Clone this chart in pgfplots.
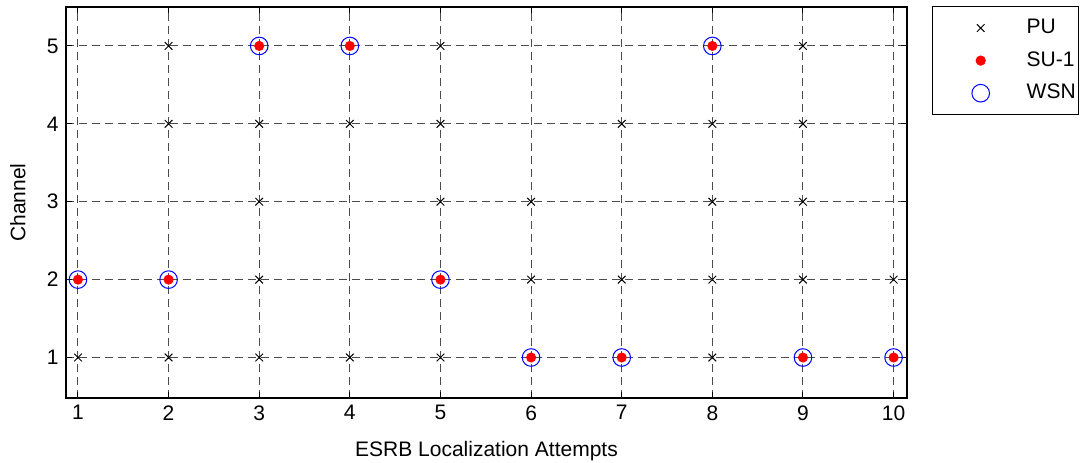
\documentclass[border=0pt]{standalone}
\usepackage{fontspec}
\setmainfont{Liberation Sans}
\usepackage{pgfplots}
\pgfplotsset{compat=1.18}
\begin{document}
\fontsize{10.5}{12.6}\selectfont
\begin{tikzpicture}
\begin{axis}[
  scale only axis, width=420.5pt, height=195.5pt,
  xmin=0.868, xmax=10.148, ymin=0.48, ymax=5.5,
  xtick={1,...,10}, ytick={1,...,5},
  grid=major,
  major grid style={black!70, dash pattern=on 4pt off 2.5pt, line width=0.5pt},
  tick align=inside, major tick length=3pt,
  axis line style={line width=0.6pt},
  tick style={black, line width=0.5pt},
  /pgf/number format/assume math mode=true,
  ticklabel style={font=\fontsize{10.5}{12}\selectfont},
  label style={font=\fontsize{10.5}{12}\selectfont},
  xlabel={ESRB Localization Attempts}, ylabel={Channel},
  xlabel style={yshift=-3.5pt},
  ylabel style={yshift=3.5pt},
  legend style={at={(1,1)}, anchor=north west, xshift=12.4pt, yshift=0.3pt,
    draw=black, line width=0.5pt, inner xsep=1.5pt, inner ysep=2.4pt,
    font=\fontsize{10.5}{12}\selectfont,
    nodes={inner xsep=0pt, inner ysep=2.9pt, text height=8pt, text depth=2.5pt},
    column sep=2pt},
  legend cell align=left,
  legend image code/.code={\path[draw=none,fill=none] (0pt,-3pt) rectangle (43.7pt,3pt); \draw[#1] plot coordinates {(22.7pt,0pt)};},
]
\addplot[only marks, mark=x, mark size=2.7pt, black, mark options={line width=0.5pt}] coordinates {
(1,1)
(2,1)(2,4)(2,5)
(3,1)(3,2)(3,3)(3,4)
(4,1)(4,4)
(5,1)(5,3)(5,4)(5,5)
(6,2)(6,3)
(7,2)(7,4)
(8,1)(8,2)(8,3)(8,4)
(9,2)(9,3)(9,4)(9,5)
(10,2)
};
\addlegendentry{PU}
\addplot[only marks, mark=*, mark size=2.3pt, red, mark options={fill=red, draw=red}] coordinates {
(1,2)(2,2)(3,5)(4,5)(5,2)(6,1)(7,1)(8,5)(9,1)(10,1)
};
\addlegendentry{SU-1}
\addplot[only marks, mark=o, mark size=4.4pt, blue, mark options={line width=0.5pt}] coordinates {
(1,2)(2,2)(3,5)(4,5)(5,2)(6,1)(7,1)(8,5)(9,1)(10,1)
};
\addlegendentry{WSN}
\end{axis}
\pgfresetboundingbox
\useasboundingbox (-33pt,-32pt) rectangle (511pt,199pt);
\end{tikzpicture}
\end{document}
